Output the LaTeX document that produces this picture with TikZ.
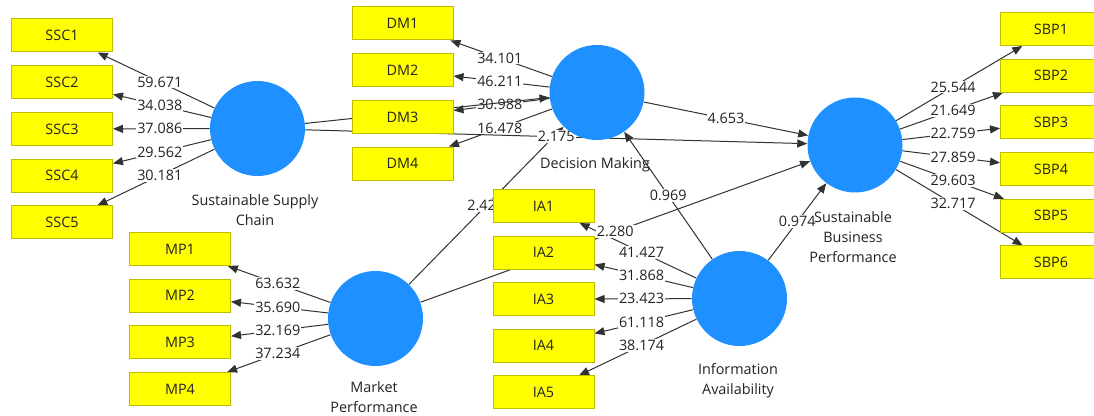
\documentclass[tikz,border=0pt]{standalone}
\usepackage{fontspec}
\setmainfont{Open Sans}
\usetikzlibrary{arrows.meta,calc}
\definecolor{boxyellow}{RGB}{255,255,0}
\definecolor{boxborder}{RGB}{190,190,0}
\definecolor{lvblue}{RGB}{30,144,255}
\definecolor{linegray}{RGB}{50,50,50}
\definecolor{txt}{RGB}{35,35,35}
\pgfdeclarelayer{bg}
\pgfdeclarelayer{lines}
\pgfdeclarelayer{labels}
\pgfdeclarelayer{over}
\pgfsetlayers{bg,lines,labels,over,main}
\begin{document}
\begin{tikzpicture}[x=0.75pt,y=-0.75pt,
 indbox/.style={draw=boxborder, fill=boxyellow, line width=0.75pt, minimum width=75.75pt, minimum height=24.75pt, inner sep=0pt, font=\fontsize{10.8}{13}\selectfont, text=txt},
 lvcircle/.style={circle, fill=lvblue, minimum size=71.25pt, inner sep=0pt},
 lvcap/.style={align=center, font=\fontsize{10.8}{15}\selectfont, text=txt},
 conn/.style={draw=linegray, line width=0.75pt, -{Triangle[length=7.5pt,width=6pt]}},
 coef/.style={fill=white, inner sep=0.75pt, font=\fontsize{10.8}{13}\selectfont, text=txt}
]
\useasboundingbox (0,0) rectangle (1094,416);
\begin{pgfonlayer}{bg}
\fill[white] (0,0) rectangle (1094,416);
\end{pgfonlayer}

% latent variables
\node[lvcircle] (ssc) at (257.5,128.5) {};
\node[lvcircle] (dm) at (597,92.5) {};
\node[lvcircle] (sbp) at (855,145) {};
\node[lvcircle] (mp) at (375.5,318.5) {};
\node[lvcircle] (ia) at (739.5,298.5) {};

\node[lvcap] (cssc) at (255,210) {Sustainable Supply\\Chain};
\node[lvcap] (cdm) at (595,165) {Decision Making};
\node[lvcap] (csbp) at (853,237.5) {Sustainable\\Business\\Performance};
\node[lvcap] (cmp) at (374,397) {Market\\Performance};
\node[lvcap] (cia) at (738,380.5) {Information\\Availability};

% indicators
\foreach \i/\y in {1/35.5,2/82.25,3/129,4/175.75,5/222.5}
  \node[indbox] (ssc\i) at (62,\y) {SSC\i};
\foreach \i/\y in {1/23.5,2/70.2,3/116.9,4/163.6}
  \node[indbox] (dm\i) at (402.5,\y) {DM\i};
\foreach \i/\y in {1/29,2/75.7,3/122.4,4/169.1,5/215.8,6/262.5}
  \node[indbox] (sbp\i) at (1051,\y) {SBP\i};
\foreach \i/\y in {1/249,2/295.7,3/342.4,4/389.1}
  \node[indbox] (mp\i) at (180,\y) {MP\i};
\foreach \i/\y in {1/206,2/252.6,3/299.2,4/345.8,5/392.4}
  \node[indbox] (ia\i) at (543.5,\y) {IA\i};

% connectors
\begin{pgfonlayer}{lines}
\foreach \i in {1,...,5} \draw[conn] (ssc) -- (ssc\i);
\foreach \i in {1,...,4} \draw[conn] (dm) -- (dm\i);
\foreach \i in {1,...,6} \draw[conn] (sbp) -- (sbp\i);
\foreach \i in {1,...,4} \draw[conn] (mp) -- (mp\i);
\foreach \i in {1,...,5} \draw[conn] (ia) -- (ia\i);
\draw[conn] (ssc) -- (sbp);
\draw[conn] (dm) -- (sbp);
\draw[conn] (mp) -- (dm);
\draw[conn] (mp) -- (sbp);
\draw[conn] (ia) -- (dm);
\draw[conn] (ia) -- (sbp);
\end{pgfonlayer}

% coefficients
\begin{pgfonlayer}{labels}
\foreach \i/\v in {1/59.671,2/34.038,3/37.086,4/29.562,5/30.181}
  \node[coef] (lssc\i) at ($(ssc)!0.5!(ssc\i)$) {\v};
\foreach \i/\v in {1/34.101,2/46.211,3/30.988,4/16.478}
  \node[coef] (ldm\i) at ($(dm)!0.5!(dm\i)$) {\v};
\foreach \i/\v in {1/25.544,2/21.649,3/22.759,4/27.859,5/29.603,6/32.717}
  \node[coef] (lsbp\i) at ($(sbp)!0.5!(sbp\i)$) {\v};
\foreach \i/\v in {1/63.632,2/35.690,3/32.169,4/37.234}
  \node[coef] (lmp\i) at ($(mp)!0.5!(mp\i)$) {\v};
\foreach \i/\v in {1/41.427,2/31.868,3/23.423,4/61.118,5/38.174}
  \node[coef] (lia\i) at ($(ia)!0.5!(ia\i)$) {\v};
\node[coef] (l1) at ($(ssc)!0.5!(sbp)$) {2.175};
\node[coef] (l2) at ($(dm)!0.5!(sbp)$) {4.653};
\node[coef, anchor=west] (l3) at (466,205.5) {2.42};
\node[coef] (l4) at ($(mp)!0.5!(sbp)$) {2.280};
\node[coef] (l5) at ($(ia)!0.5!(dm)$) {0.969};
\node[coef] (l6) at ($(ia)!0.5!(sbp)$) {0.974};
\end{pgfonlayer}

\begin{pgfonlayer}{over}
\draw[conn] (ssc) -- (dm);
\end{pgfonlayer}
\end{tikzpicture}
\end{document}
